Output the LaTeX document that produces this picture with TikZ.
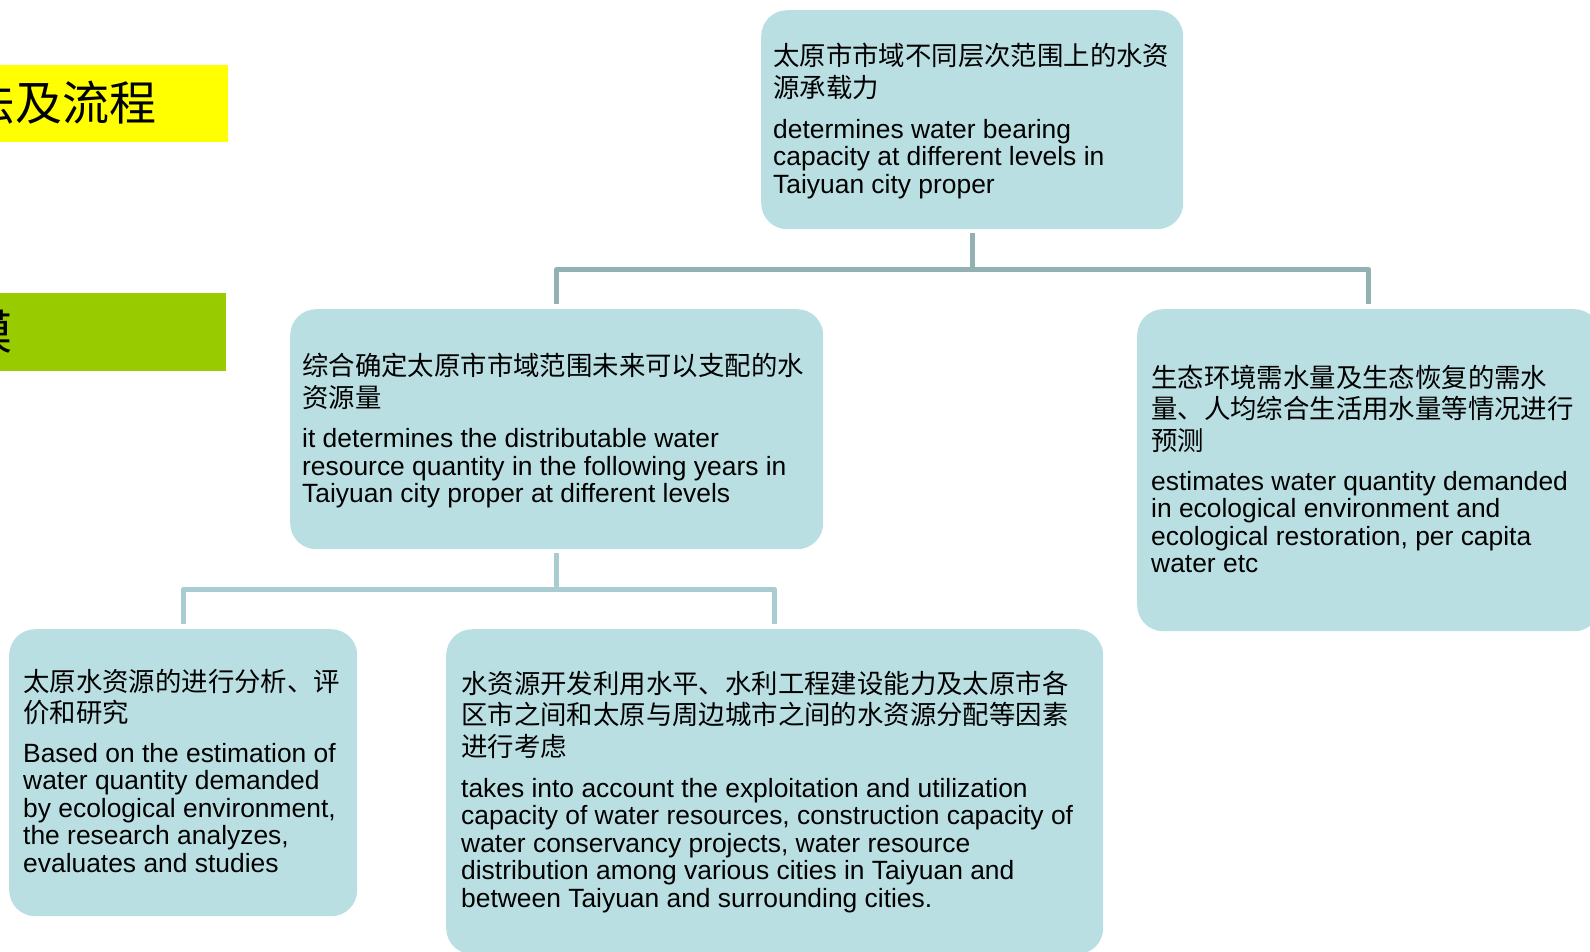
\documentclass[tikz,border=0pt]{standalone}
\usepackage{fontspec}
\setmainfont{Liberation Sans}
\newfontfamily\cjk{Noto Sans CJK SC}
\definecolor{boxc}{RGB}{186,223,227}
\definecolor{lineA}{RGB}{147,176,179}
\definecolor{lineB}{RGB}{168,204,207}
\definecolor{ybar}{RGB}{255,255,0}
\definecolor{gbar}{RGB}{153,204,0}
\begin{document}
\begin{tikzpicture}[x=1pt,y=-1pt,
  box/.style={rectangle, rounded corners=26pt, fill=boxc, draw=none, anchor=north west, inner sep=0pt},
  bar/.style={rectangle, draw=none, anchor=north east, inner sep=0pt},
  en/.style={anchor=base west, inner sep=0pt, font=\fontsize{26.4}{28}\selectfont},
  cn/.style={anchor=base west, inner sep=0pt, font=\cjk\fontsize{26.4}{32}\selectfont},
  bigcn/.style={anchor=west, inner sep=0pt, font=\cjk\fontsize{47}{50}\selectfont},
  connA/.style={draw=lineA, line width=5pt, line join=round},
  connB/.style={draw=lineB, line width=5pt, line join=round}]
\useasboundingbox (0,0) rectangle (1590,951);
\clip (0,0) rectangle (1590,951);

% side bars
\node[bar, fill=ybar, minimum width=240pt, minimum height=77pt] (ybarn) at (228,65) {};
\node[bigcn] (ytext) at (-32,103) {法及流程};
\node[bar, fill=gbar, minimum width=240pt, minimum height=78pt] (gbarn) at (226,293) {};
\node[bigcn] (gtext) at (-35,332) {模};

% boxes
\node[box, minimum width=422pt, minimum height=219pt] (top) at (761,10) {};
\node[box, minimum width=533pt, minimum height=240pt] (midL) at (290,309) {};
\node[box, minimum width=463pt, minimum height=322pt] (rbox) at (1137,309) {};
\node[box, minimum width=348pt, minimum height=287pt] (botL) at (9,629) {};
\node[box, minimum width=657pt, minimum height=325pt] (botM) at (446,629) {};

% connectors
\draw[connA] ([yshift=-4pt]top.south) -- ++(0,36) -| ([yshift=5pt]midL.north);
\draw[connA] ([yshift=-4pt]top.south) -- ++(0,36) -| ([yshift=5pt]rbox.north);
\draw[connB] ([yshift=-4pt]midL.south) -- ++(0,36) -| ([yshift=5pt]botL.north);
\draw[connB] ([yshift=-4pt]midL.south) -- ++(0,36) -| ([yshift=5pt]botM.north);

% top box text
\foreach \t [count=\i] in {太原市市域不同层次范围上的水资, 源承载力}
  \node[cn] (tc\i) at (773, 65+32*\i-32) {\t};
\foreach \t [count=\i] in {determines water bearing, capacity at different levels in, Taiyuan city proper}
  \node[en] (te\i) at (773, 138+27.5*\i-27.5) {\t};

% middle-left box text
\foreach \t [count=\i] in {综合确定太原市市域范围未来可以支配的水, 资源量}
  \node[cn] (mc\i) at (302, 375+32*\i-32) {\t};
\foreach \t [count=\i] in {it determines the distributable water, resource quantity in the following years in, Taiyuan city proper at different levels}
  \node[en] (me\i) at (302, 447.5+27.5*\i-27.5) {\t};

% right box text
\foreach \t [count=\i] in {生态环境需水量及生态恢复的需水, 量、人均综合生活用水量等情况进行, 预测}
  \node[cn] (rc\i) at (1151, 387+31.5*\i-31.5) {\t};
\foreach \t [count=\i] in {estimates water quantity demanded, in ecological environment and, {ecological restoration, per capita}, water etc}
  \node[en] (re\i) at (1151, 490+27.5*\i-27.5) {\t};

% bottom-left box text
\foreach \t [count=\i] in {太原水资源的进行分析、评, 价和研究}
  \node[cn] (lc\i) at (23, 691+31.5*\i-31.5) {\t};
\foreach \t [count=\i] in {Based on the estimation of, water quantity demanded, {by ecological environment,}, {the research analyzes,}, evaluates and studies}
  \node[en] (le\i) at (23, 762+27.5*\i-27.5) {\t};

% bottom-middle box text
\foreach \t [count=\i] in {水资源开发利用水平、水利工程建设能力及太原市各, 区市之间和太原与周边城市之间的水资源分配等因素, 进行考虑}
  \node[cn] (bc\i) at (461, 693+31.5*\i-31.5) {\t};
\foreach \t [count=\i] in {takes into account the exploitation and utilization, {capacity of water resources, construction capacity of}, {water conservancy projects, water resource}, distribution among various cities in Taiyuan and, between Taiyuan and surrounding cities.}
  \node[en] (be\i) at (461, 797+27.5*\i-27.5) {\t};
\end{tikzpicture}
\end{document}
